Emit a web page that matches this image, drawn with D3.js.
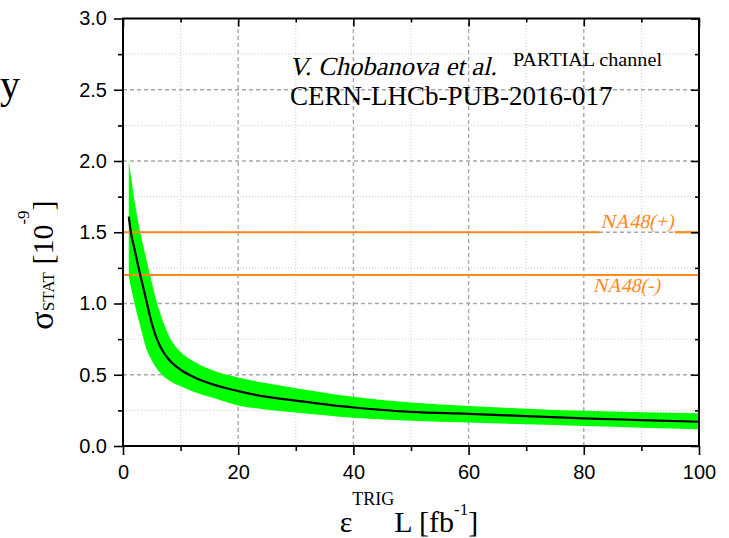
<!DOCTYPE html>
<html>
<head>
<meta charset="utf-8">
<script src="https://cdn.jsdelivr.net/npm/d3@7"></script>
<style>
  body { margin: 0; background: #fff; }
  svg { display: block; }
</style>
</head>
<body>
<svg id="chart" width="729" height="538"></svg>
<script>
// ---- data ----
const lumiValues    = [1, 1.5, 2, 3, 4, 5, 6, 7, 8, 10, 12, 15, 20, 25, 30, 40, 50, 60, 70, 80, 90, 100];
const centralValues = [1.61, 1.47, 1.38, 1.20, 1.03, 0.86, 0.74, 0.66, 0.605, 0.535, 0.49, 0.44, 0.385, 0.345, 0.318, 0.27, 0.24, 0.226, 0.21, 0.194, 0.182, 0.17];
const upperValues   = [2.00, 1.86, 1.72, 1.50, 1.32, 1.15, 0.99, 0.87, 0.77, 0.66, 0.60, 0.54, 0.48, 0.44, 0.405, 0.345, 0.305, 0.28, 0.262, 0.247, 0.237, 0.229];
const lowerValues   = [1.19, 1.09, 1.00, 0.84, 0.69, 0.60, 0.535, 0.49, 0.46, 0.42, 0.385, 0.345, 0.285, 0.255, 0.235, 0.198, 0.177, 0.165, 0.152, 0.14, 0.128, 0.117];
const na48Values    = [1.5, 1.2];
const na48Labels    = ["NA48(+)", "NA48(-)"];
const xMajorTicks   = [0, 20, 40, 60, 80, 100];
const xMinorTicks   = [10, 30, 50, 70, 90];
const yMajorTicks   = [0.0, 0.5, 1.0, 1.5, 2.0, 2.5, 3.0];
const yMinorTicks   = [0.25, 0.75, 1.25, 1.75, 2.25, 2.75];

// ---- layout ----
const svg = d3.select("#chart");
const X0 = 123, X1 = 699, Y0 = 446, Y1 = 18.5;
const x = d3.scaleLinear().domain([0, 100]).range([X0, X1]);
const y = d3.scaleLinear().domain([0, 3]).range([Y0, Y1]);
const orange = "#ff8a1c";
const serif = "Liberation Serif, Times New Roman, serif";

// slanted serif text (no serif italic face installed)
function slanted(parent, px, py, anchor, size, fill, len, str) {
  const g = parent.append("g").attr("transform", `translate(${px},${py}) skewX(-13)`);
  const t = g.append("text").attr("x", 0).attr("y", 0).attr("text-anchor", anchor)
    .attr("font-family", serif).attr("font-size", size).attr("fill", fill)
    .attr("textLength", len).attr("lengthAdjust", "spacingAndGlyphs").text(str);
  return t;
}

// grid
const grid = svg.append("g");
grid.selectAll(".gxm").data(xMinorTicks).join("line")
  .attr("x1", d => x(d)).attr("x2", d => x(d)).attr("y1", Y0).attr("y2", Y1)
  .attr("stroke", "#cfcfcf").attr("stroke-width", 1).attr("stroke-dasharray", "1,2");
grid.selectAll(".gym").data(yMinorTicks).join("line")
  .attr("x1", X0).attr("x2", X1).attr("y1", d => y(d)).attr("y2", d => y(d))
  .attr("stroke", "#cfcfcf").attr("stroke-width", 1).attr("stroke-dasharray", "1,2");
grid.selectAll(".gxM").data(xMajorTicks.filter(d => d > 0 && d < 100)).join("line")
  .attr("x1", d => x(d)).attr("x2", d => x(d)).attr("y1", Y0).attr("y2", Y1)
  .attr("stroke", "#a8a8a8").attr("stroke-width", 1.4).attr("stroke-dasharray", "4,3");
grid.selectAll(".gyM").data(yMajorTicks.filter(d => d > 0 && d < 3)).join("line")
  .attr("x1", X0).attr("x2", X1).attr("y1", d => y(d)).attr("y2", d => y(d))
  .attr("stroke", "#a8a8a8").attr("stroke-width", 1.4).attr("stroke-dasharray", "4,3");

// band
const pts = lumiValues.map((v, i) => ({x: v, c: centralValues[i], u: upperValues[i], l: lowerValues[i]}));
svg.append("path").datum(pts)
  .attr("d", d3.area().x(d => x(d.x)).y0(d => y(d.l)).y1(d => y(d.u)).curve(d3.curveMonotoneX))
  .attr("fill", "#00ff00");

// NA48 lines and labels
const labelPos = [{cx: 637, dy: -4, w: 73}, {cx: 626.5, dy: 17, w: 67}];
na48Values.forEach((v, i) => {
  slanted(svg, labelPos[i].cx, y(v) + labelPos[i].dy, "middle", 20, orange, labelPos[i].w, na48Labels[i]);
  const left = labelPos[i].cx - labelPos[i].w / 2, right = labelPos[i].cx + labelPos[i].w / 2;
  const above = labelPos[i].dy < 0;
  const segs = above ? [[x(0) + 1, left - 1], [right + 1, x(100)]] : [[x(0) + 1, x(100)]];
  segs.forEach(s => svg.append("line")
    .attr("x1", s[0]).attr("x2", s[1]).attr("y1", y(v)).attr("y2", y(v))
    .attr("stroke", orange).attr("stroke-width", 2.2));
});

// central curve
svg.append("path").datum(pts)
  .attr("d", d3.line().x(d => x(d.x)).y(d => y(d.c)).curve(d3.curveMonotoneX))
  .attr("fill", "none").attr("stroke", "#000").attr("stroke-width", 2.2);

// axes
function styleAxis(g) {
  g.select(".domain").remove();
  g.selectAll(".tick line").attr("stroke", "#000").attr("stroke-width", 1.6);
  g.selectAll(".tick text").attr("font-family", "Liberation Sans, Arial, sans-serif")
    .attr("font-size", 20).attr("fill", "#000");
}
svg.append("g").attr("transform", `translate(0,${Y0})`)
  .call(d3.axisBottom(x).tickValues(xMajorTicks).tickSize(9).tickPadding(10).tickFormat(d3.format("d")))
  .call(styleAxis);
svg.append("g").attr("transform", `translate(0,${Y0})`)
  .call(d3.axisBottom(x).tickValues(xMinorTicks).tickSize(5).tickFormat(""))
  .call(styleAxis);
svg.append("g").attr("transform", `translate(${X0},0)`)
  .call(d3.axisLeft(y).tickValues(yMajorTicks).tickSize(9).tickPadding(7).tickFormat(d3.format(".1f")))
  .call(styleAxis);
svg.append("g").attr("transform", `translate(${X0},0)`)
  .call(d3.axisLeft(y).tickValues(yMinorTicks).tickSize(5).tickFormat(""))
  .call(styleAxis);
// mirrored inward ticks on top and right
svg.append("g").attr("transform", `translate(${X1},0)`)
  .call(d3.axisRight(y).tickValues(yMajorTicks).tickSize(-8).tickFormat(""))
  .call(styleAxis);
svg.append("g").attr("transform", `translate(${X1},0)`)
  .call(d3.axisRight(y).tickValues(yMinorTicks).tickSize(-4).tickFormat(""))
  .call(styleAxis);
svg.append("g").attr("transform", `translate(0,${Y1})`)
  .call(d3.axisTop(x).tickValues(xMajorTicks).tickSize(-8).tickFormat(""))
  .call(styleAxis);
svg.append("g").attr("transform", `translate(0,${Y1})`)
  .call(d3.axisTop(x).tickValues(xMinorTicks).tickSize(-4).tickFormat(""))
  .call(styleAxis);

// frame
svg.append("rect").attr("x", X0).attr("y", Y1).attr("width", X1 - X0).attr("height", Y0 - Y1)
  .attr("fill", "none").attr("stroke", "#000").attr("stroke-width", 2);

// annotations
slanted(svg, 289, 75, "start", 26, "#000", 208, "V. Chobanova et al.");
svg.append("text").attr("x", 513).attr("y", 66).attr("font-family", serif)
  .attr("font-size", 18).attr("textLength", 149).attr("lengthAdjust", "spacingAndGlyphs")
  .text("PARTIAL channel");
svg.append("text").attr("x", 290).attr("y", 105).attr("font-family", serif)
  .attr("font-size", 27).text("CERN-LHCb-PUB-2016-017");

// glyph at left edge (remnant of a title)
svg.append("text").attr("x", 0).attr("y", 98)
  .attr("font-family", serif).attr("font-size", 40).text("y");

// x axis title
const xt = svg.append("text").attr("x", 409).attr("y", 532).attr("text-anchor", "middle")
  .attr("font-family", serif).attr("font-size", 30).attr("fill", "#000");
xt.append("tspan").text("ε");
xt.append("tspan").attr("font-size", 18).attr("dy", -27).text("TRIG");
xt.append("tspan").attr("dy", 27).text("L [fb");
xt.append("tspan").attr("font-size", 17).attr("dy", -17).text("-1");
xt.append("tspan").attr("dy", 17).text("]");

// y axis title
const yt = svg.append("text").attr("transform", "translate(53,265) rotate(-90)")
  .attr("text-anchor", "middle").attr("font-family", serif).attr("font-size", 30).attr("fill", "#000");
yt.append("tspan").attr("font-size", 34).text("σ");
yt.append("tspan").attr("font-size", 17).attr("dy", 1).text("STAT");
yt.append("tspan").attr("dy", -1).text(" [10");
yt.append("tspan").attr("font-size", 17).attr("dy", -24).text("-9");
yt.append("tspan").attr("dy", 24).text("]");
</script>
</body>
</html>
